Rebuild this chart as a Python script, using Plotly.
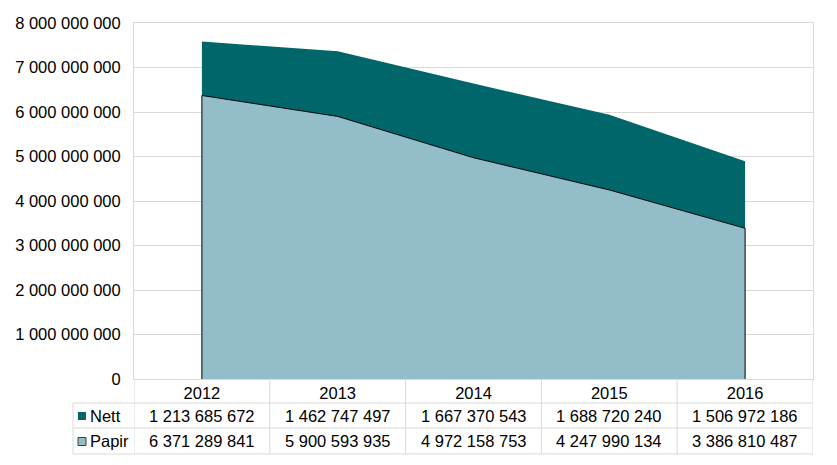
import plotly.graph_objects as go

years = ["2012", "2013", "2014", "2015", "2016"]
nett = [1213685672, 1462747497, 1667370543, 1688720240, 1506972186]
papir = [6371289841, 5900593935, 4972158753, 4247990134, 3386810487]

NETT_COLOR = "#00666A"
PAPIR_COLOR = "#93BEC9"
GRID = "#D9D9D9"
FONT = "Arial, Liberation Sans, sans-serif"
FS = 16.5

# page body has an 8px margin, so the figure is drawn 8px in from the corner
OFF = 8
W, H = 837 - OFF, 465 - OFF
# plot area edges in screen pixels
L, R, T, B = 134, 813, 23, 379
PW, PH = R - L, B - T


def px_x(px):
    return (px - L) / PW


def px_y(py):
    return (B - py) / PH


def fmt(v):
    return f"{v:,}".replace(",", " ")


totals = [n + p for n, p in zip(nett, papir)]

fig = go.Figure()

# Nett (stacked on top of Papir)
fig.add_trace(go.Scatter(
    x=years + years[::-1], y=totals + papir[::-1],
    fill="toself", fillcolor=NETT_COLOR, mode="lines",
    line=dict(width=0, color=NETT_COLOR), name="Nett", hoverinfo="skip"))

# Papir with dark outline including the side edges
fig.add_trace(go.Scatter(
    x=[years[0]] + years + [years[-1]], y=[0] + papir + [0],
    fill="tozeroy", fillcolor=PAPIR_COLOR, mode="lines",
    line=dict(width=1, color="black"), name="Papir", hoverinfo="skip"))

fig.update_layout(
    width=W, height=H,
    margin=dict(l=L - OFF, r=837 - R, t=T - OFF, b=465 - B),
    paper_bgcolor="white", plot_bgcolor="white",
    showlegend=False,
    separators=", ",
    font=dict(family=FONT, size=FS, color="black"),
)

fig.update_xaxes(
    type="category", range=[-0.5, len(years) - 0.5], automargin=False,
    showgrid=False, showline=True, linecolor=GRID, linewidth=1, mirror=True,
    ticks="", ticklabelstandoff=-1, tickfont=dict(size=FS),
)
fig.update_yaxes(
    range=[0, 8e9], dtick=1e9, tickformat=",d", automargin=False,
    showgrid=True, gridcolor=GRID, gridwidth=1,
    showline=True, linecolor=GRID, linewidth=1, mirror=True,
    zeroline=False, ticks="", ticklabelstandoff=9,
)

# data table grid
row_lines = [403, 428, 454]
left_col = 73
shapes = []
for py in row_lines:
    shapes.append(dict(type="line", xref="paper", yref="paper",
                       x0=px_x(left_col), x1=1, y0=px_y(py), y1=px_y(py),
                       line=dict(color=GRID, width=1)))
shapes.append(dict(type="line", xref="paper", yref="paper",
                   x0=px_x(left_col), x1=px_x(left_col), y0=px_y(403), y1=px_y(454),
                   line=dict(color=GRID, width=1)))
for i in range(len(years) + 1):
    shapes.append(dict(type="line", xref="x", yref="paper",
                       x0=i - 0.5, x1=i - 0.5, y0=0, y1=px_y(454),
                       line=dict(color=GRID, width=1)))

# legend keys in the table
shapes.append(dict(type="rect", xref="paper", yref="paper",
                   x0=px_x(78), x1=px_x(86), y0=px_y(420), y1=px_y(412),
                   fillcolor=NETT_COLOR, line=dict(width=0)))
shapes.append(dict(type="rect", xref="paper", yref="paper",
                   x0=px_x(78), x1=px_x(86), y0=px_y(445.5), y1=px_y(437.5),
                   fillcolor=PAPIR_COLOR, line=dict(width=1, color="#404040")))

annotations = []
rows = [("Nett", nett, 415.5), ("Papir", papir, 441)]
for label, vals, py in rows:
    annotations.append(dict(text=label, xref="paper", yref="paper",
                            x=px_x(88), y=px_y(py), xanchor="left", yanchor="middle",
                            showarrow=False, font=dict(size=FS)))
    for i, v in enumerate(vals):
        annotations.append(dict(text=fmt(v), xref="x", yref="paper",
                                x=i, y=px_y(py), xanchor="center", yanchor="middle",
                                showarrow=False, font=dict(size=FS)))

fig.update_layout(shapes=shapes, annotations=annotations)

fig.write_html("out.html")
